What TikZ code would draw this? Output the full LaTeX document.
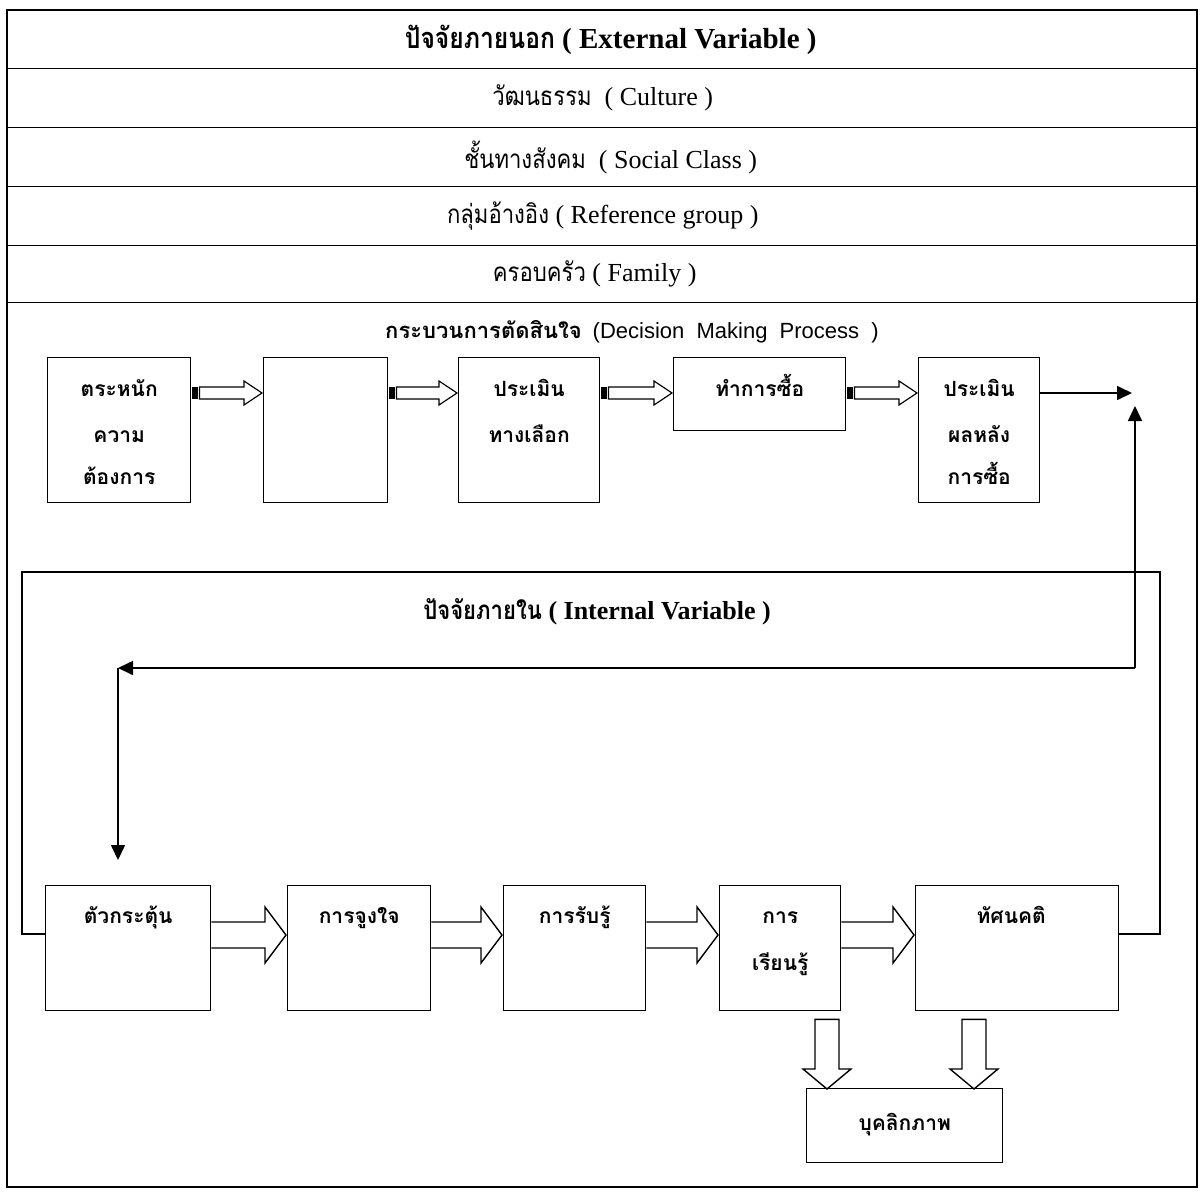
\documentclass[tikz,border=0pt]{standalone}
\usepackage{fontspec}
\setmainfont{Liberation Serif}
\newfontfamily\thai[Script=Thai,FakeStretch=0.85]{Loma}
\newfontfamily\thaibox[Script=Thai]{Loma}
\newfontfamily\arialf{Liberation Sans}
\usetikzlibrary{calc,arrows.meta}
\tikzset{
  ln/.style={line width=1.4pt},
  rowbox/.style={draw, line width=1.4pt, rectangle, inner sep=0pt, anchor=north west, minimum width=1190pt},
  box/.style={draw, line width=1.4pt, rectangle, inner sep=0pt, anchor=north west},
  hdr/.style={font=\fontsize{26}{30}\selectfont, inner sep=0pt},
  hdrb/.style={font=\fontsize{29}{32}\selectfont\bfseries, inner sep=0pt},
  btxt/.style={font=\thaibox\bfseries\fontsize{21}{24}\selectfont, inner sep=0pt, text height=14pt, text depth=4pt},
  tip/.style={-{Triangle[length=15pt,width=14pt]}, line width=1.6pt},
}
\newcommand\decarrow[2]{%
  \fill let \p1=($(#1.north east)+(0,36)$), \p2=($(#2.north west)+(0,36)$) in
    (\x1+1pt,\y1-6pt) rectangle (\x1+7pt,\y1+6pt);
  \draw[line width=1.2pt] let \p1=($(#1.north east)+(0,36)$), \p2=($(#2.north west)+(0,36)$) in
    (\x1+8pt,\y1+6pt) -- (\x2-19pt,\y1+6pt) -- (\x2-19pt,\y1+12pt) -- (\x2-1pt,\y1)
    -- (\x2-19pt,\y1-12pt) -- (\x2-19pt,\y1-6pt) -- (\x1+8pt,\y1-6pt) -- cycle;
}
\newcommand\inarrow[2]{%
  \draw[line width=1.4pt] let \p1=($(#1.north east)+(0,50)$), \p2=($(#2.north west)+(0,50)$) in
    (\x1,\y1+13pt) -- (\x2-22pt,\y1+13pt) -- (\x2-22pt,\y1+28pt) -- (\x2-1pt,\y1)
    -- (\x2-22pt,\y1-28pt) -- (\x2-22pt,\y1-13pt) -- (\x1,\y1-13pt);
}
\newcommand\pdarrow[3]{%
  \draw[line width=1.4pt] let \p1=($(#2.north west)+(#3,0)$), \p2=($(#1.south)+(0,8)$) in
    (\x1-12pt,\y2) -- (\x1+12pt,\y2) -- (\x1+12pt,\y1+19pt) -- (\x1+24pt,\y1+19pt) -- (\x1,\y1-1pt)
    -- (\x1-24pt,\y1+19pt) -- (\x1-12pt,\y1+19pt) -- cycle;
}
\begin{document}
\begin{tikzpicture}[x=1pt,y=-1pt]
\useasboundingbox (0,0) rectangle (1201,1191);
\fill[white] (0,0) rectangle (1201,1191);
% outer frame
\draw[ln] (7,10) rectangle (1197,1187);
% header rows
\node[rowbox, minimum height=58pt] (r1) at (7,10) {};
\node[rowbox, minimum height=59pt] (r2) at (7,68) {};
\node[rowbox, minimum height=59pt] (r3) at (7,127) {};
\node[rowbox, minimum height=59pt] (r4) at (7,186) {};
\node[rowbox, minimum height=57pt] (r5) at (7,245) {};
\node[hdrb] (r1t) at ($(r1.center)+(8,0)$) {{\thai ปัจจัยภายนอก} ( External Variable )};
\node[hdr] (r2t) at (r2.center) {{\thai วัฒนธรรม}\ \ ( Culture )};
\node[hdr] (r3t) at ($(r3.center)+(8,0)$) {{\thai ชั้นทางสังคม}\ \ ( Social Class )};
\node[hdr] (r4t) at (r4.center) {{\thai กลุ่มอ้างอิง} ( Reference group )};
\node[hdr] (r5t) at ($(r5.center)+(-8,0)$) {{\thai ครอบครัว} ( Family )};
% decision process title
\node[inner sep=0pt, font=\fontsize{22}{24}\selectfont] (dt) at (632,332)
  {{\thaibox\bfseries กระบวนการตัดสินใจ}\ \ {\arialf (Decision\ \ Making\ \ Process\ \ )}};
% decision boxes
\node[box, minimum width=143pt, minimum height=145pt] (d1) at (47,357) {};
\node[box, minimum width=124pt, minimum height=145pt] (d2) at (263,357) {};
\node[box, minimum width=141pt, minimum height=145pt] (d3) at (458,357) {};
\node[box, minimum width=172pt, minimum height=73pt] (d4) at (673,357) {};
\node[box, minimum width=121pt, minimum height=145pt] (d5) at (918,357) {};
\node[btxt] (d1a) at ($(d1.north)+(0,34)$) {ตระหนัก};
\node[btxt] (d1b) at ($(d1.north)+(0,80)$) {ความ};
\node[btxt] (d1c) at ($(d1.north)+(0,122)$) {ต้องการ};
\node[btxt] (d3a) at ($(d3.north)+(0,34)$) {ประเมิน};
\node[btxt] (d3b) at ($(d3.north)+(0,80)$) {ทางเลือก};
\node[btxt] (d4a) at ($(d4.north)+(0,34)$) {ทำการซื้อ};
\node[btxt] (d5a) at ($(d5.north)+(0,34)$) {ประเมิน};
\node[btxt] (d5b) at ($(d5.north)+(0,80)$) {ผลหลัง};
\node[btxt] (d5c) at ($(d5.north)+(0,122)$) {การซื้อ};
\decarrow{d1}{d2}
\decarrow{d2}{d3}
\decarrow{d3}{d4}
\decarrow{d4}{d5}
% internal title
\node[hdrb, font=\fontsize{26}{28}\selectfont\bfseries] (it) at (597,612) {{\thai ปัจจัยภายใน} ( Internal Variable )};
% internal boxes
\node[box, minimum width=165pt, minimum height=125pt] (i1) at (45,885) {};
\node[box, minimum width=143pt, minimum height=125pt] (i2) at (287,885) {};
\node[box, minimum width=142pt, minimum height=125pt] (i3) at (503,885) {};
\node[box, minimum width=121pt, minimum height=125pt] (i4) at (719,885) {};
\node[box, minimum width=203pt, minimum height=125pt] (i5) at (915,885) {};
\node[box, minimum width=196pt, minimum height=74pt] (p) at (806,1088) {};
\node[btxt] (i1a) at ($(i1.north)+(0,33)$) {ตัวกระตุ้น};
\node[btxt] (i2a) at ($(i2.north)+(0,33)$) {การจูงใจ};
\node[btxt] (i3a) at ($(i3.north)+(0,33)$) {การรับรู้};
\node[btxt] (i4a) at ($(i4.north)+(0,33)$) {การ};
\node[btxt] (i4b) at ($(i4.north)+(0,80)$) {เรียนรู้};
\node[btxt] (i5a) at ($(i5.north)+(-6,33)$) {ทัศนคติ};
\node[btxt] (pa) at (p.center) {บุคลิกภาพ};
\inarrow{i1}{i2}
\inarrow{i2}{i3}
\inarrow{i3}{i4}
\inarrow{i4}{i5}
\pdarrow{i4}{p}{21}
\pdarrow{i5}{p}{168}
% internal loop frame
\coordinate (iTL) at (22,572);
\coordinate (iTR) at (1160,572);
\draw[ln] ($(i1.north west)+(0,49)$) -| (iTL) -| (iTR) |- ($(i5.north east)+(0,49)$);
% feedback arrows
\coordinate (tipA) at (1132,393);
\coordinate (tipU) at (1135,406);
\coordinate (cR) at (1135,668);
\coordinate (cL) at (118,668);
\draw[tip] ($(d5.north east)+(0,36)$) -- (tipA);
\draw[tip] (cR) -- (tipU);
\draw[tip] (cR) -- (cL);
\draw[tip] (cL) -- ($(i1.north west)+(73,-25)$);
\end{tikzpicture}
\end{document}
